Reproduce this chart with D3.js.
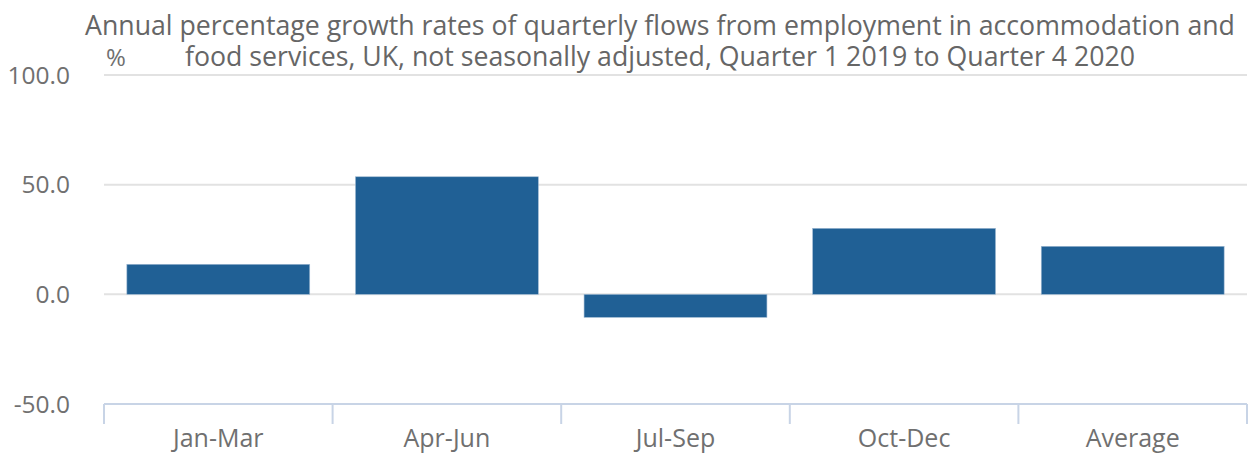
<!DOCTYPE html>
<html>
<head>
<meta charset="utf-8">
<script src="https://cdn.jsdelivr.net/npm/d3@7"></script>
<style>
  body { margin: 0; background: #fff; }
  text { font-family: "Open Sans", sans-serif; fill: #707070; }
</style>
</head>
<body>
<div id="chart"></div>
<script>
// Chart data
var categories = ["Jan-Mar", "Apr-Jun", "Jul-Sep", "Oct-Dec", "Average"];
var values = [13.7, 53.6, -10.5, 30.1, 21.9];
var yTicks = [-50, 0, 50, 100];
var titleLines = [
  "Annual percentage growth rates of quarterly flows from employment in accommodation and",
  "food services, UK, not seasonally adjusted, Quarter 1 2019 to Quarter 4 2020"
];

// Set svg dimensions
const width = 1249;
const height = 453;
var margin = {top: 75, right: 2, bottom: 49, left: 104};
var plotWidth = width - margin.left - margin.right;
var plotHeight = height - margin.top - margin.bottom;

var svg = d3.select("#chart")
            .append("svg")
                .attr("width", width)
                .attr("height", height);

var g = svg.append("g")
            .attr("transform", "translate(" + margin.left + "," + margin.top + ")");

// Scales
var scaleX = d3.scaleBand()
                .domain(categories)
                .range([0, plotWidth])
                .paddingInner(0.2)
                .paddingOuter(0.1);

var scaleY = d3.scaleLinear()
                .domain([-50, 100])
                .range([plotHeight, 0]);

// Gridlines (skip the bottom one, axis line sits there)
g.selectAll("line.grid")
    .data(yTicks.filter(function(d) { return d > -50; }))
    .enter()
    .append("line")
        .attr("class", "grid")
        .attr("x1", 0)
        .attr("x2", plotWidth)
        .attr("y1", function(d) { return scaleY(d); })
        .attr("y2", function(d) { return scaleY(d); })
        .attr("stroke", "#e2e2e2")
        .attr("stroke-width", 2);

// Y axis labels (placed on the svg so the right edge is at x=70)
svg.selectAll("text.ylab")
    .data(yTicks)
    .enter()
    .append("text")
        .attr("class", "ylab")
        .attr("x", 70)
        .attr("y", function(d) { return margin.top + scaleY(d); })
        .attr("dy", "0.36em")
        .attr("text-anchor", "end")
        .style("font-size", "24.5px")
        .text(function(d) { return d.toFixed(1); });

// Bars
g.selectAll("rect.bar")
    .data(values)
    .enter()
    .append("rect")
        .attr("class", "bar")
        .attr("x", function(d, i) { return scaleX(categories[i]); })
        .attr("y", function(d) { return scaleY(Math.max(0, d)); })
        .attr("width", scaleX.bandwidth())
        .attr("height", function(d) { return Math.abs(scaleY(d) - scaleY(0)); })
        .attr("fill", "#206095")
        .attr("stroke", "#9fb9d3")
        .attr("stroke-width", 0.6);

// X axis at the bottom
var axisX = g.append("g")
    .attr("transform", "translate(0," + plotHeight + ")");

axisX.append("line")
    .attr("x1", 0)
    .attr("x2", plotWidth)
    .attr("stroke", "#c8d4e6")
    .attr("stroke-width", 2);

var edges = categories.map(function(c) { return scaleX(c) - scaleX.step() * 0.1; });
edges.push(plotWidth);
axisX.selectAll("line.tick")
    .data(edges)
    .enter()
    .append("line")
        .attr("class", "tick")
        .attr("x1", function(d) { return d; })
        .attr("x2", function(d) { return d; })
        .attr("y1", 0)
        .attr("y2", 20)
        .attr("stroke", "#c8d4e6")
        .attr("stroke-width", 2);

axisX.selectAll("text.xlab")
    .data(categories)
    .enter()
    .append("text")
        .attr("class", "xlab")
        .attr("x", function(d) { return scaleX(d) + scaleX.bandwidth() / 2; })
        .attr("y", 43)
        .attr("text-anchor", "middle")
        .style("font-size", "25px")
        .text(function(d) { return d; });

// Title
svg.selectAll("text.title")
    .data(titleLines)
    .enter()
    .append("text")
        .attr("class", "title")
        .attr("x", 660)
        .attr("y", function(d, i) { return 35 + i * 31; })
        .attr("text-anchor", "middle")
        .style("font-size", "26.7px")
        .style("fill", "#666666")
        .text(function(d) { return d; });

// Unit label
svg.append("text")
    .attr("x", 106)
    .attr("y", 66)
    .style("font-size", "24px")
    .text("%");
</script>
</body>
</html>
